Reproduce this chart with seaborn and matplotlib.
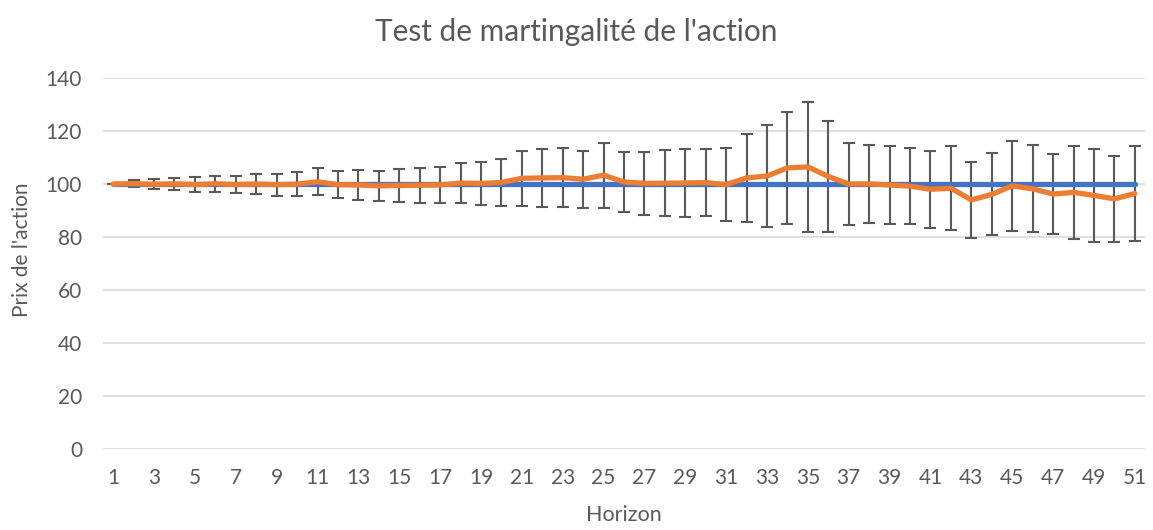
import numpy as np
import pandas as pd
import seaborn as sns
import matplotlib.pyplot as plt

# Horizon 1..51
horizon = list(range(1, 52))

# Prix théorique (martingale) : constant
prix_theorique = [100] * 51

# Prix moyen simulé
prix_moyen = [100.0, 100.15, 99.9, 100.05, 99.8, 100.1, 99.8, 100.0, 99.75, 99.95,
              100.85, 99.75, 99.65, 99.3, 99.45, 99.55, 99.65, 100.35, 100.2, 100.6,
              102.15, 102.3, 102.4, 101.8, 103.35, 100.75, 100.25, 100.3, 100.4, 100.55,
              99.8, 102.3, 103.0, 106.1, 106.45, 102.85, 100.0, 100.05, 99.65, 99.2,
              98.0, 98.4, 94.0, 96.1, 99.3, 98.2, 96.2, 96.85, 95.7, 94.4,
              96.4]

# Demi-largeur des barres d'erreur
ecart = [0.0, 1.35, 1.9, 2.35, 2.7, 3.0, 3.3, 3.8, 4.15, 4.55,
         5.05, 5.15, 5.65, 5.7, 6.25, 6.65, 6.75, 7.45, 8.2, 8.9,
         10.45, 10.9, 11.1, 10.7, 12.25, 11.25, 11.95, 12.4, 12.7, 12.65,
         13.8, 16.6, 19.3, 21.2, 24.65, 20.85, 15.6, 14.65, 14.75, 14.3,
         14.5, 15.8, 14.3, 15.5, 17.0, 16.4, 15.1, 17.65, 17.5, 16.3,
         17.8]

df = pd.DataFrame({'horizon': horizon, 'theorique': prix_theorique,
                   'moyen': prix_moyen, 'ecart': ecart})

sns.set_theme(style='white')
plt.rcParams['font.family'] = ['Lato', 'DejaVu Sans']
gris = '#595959'

fig = plt.figure(figsize=(11.53, 5.30), dpi=100)
ax = fig.add_axes([0.0893, 0.1528, 0.9038, 0.70])

# barres d'erreur (derrière les courbes)
ax.errorbar(df['horizon'], df['moyen'], yerr=df['ecart'], fmt='none',
            ecolor=gris, elinewidth=1.5, capsize=4.5, capthick=1.5, zorder=2)

sns.lineplot(data=df, x='horizon', y='theorique', color='#4472C4', linewidth=3.8,
             ax=ax, zorder=3, solid_capstyle='round')
sns.lineplot(data=df, x='horizon', y='moyen', color='#ED7D31', linewidth=3.8,
             ax=ax, zorder=4, solid_capstyle='round')

ax.set_xlim(0.5, 51.5)
ax.set_ylim(0, 140)
ax.set_xticks(horizon[::2])
ax.set_yticks(range(0, 141, 20))
ax.yaxis.grid(True, color='#D9D9D9', linewidth=1.2, zorder=0)
ax.set_axisbelow(True)
for s in ax.spines.values():
    s.set_visible(False)
ax.tick_params(axis='both', length=0, labelsize=15, colors=gris)
ax.tick_params(axis='x', pad=14)
ax.tick_params(axis='y', pad=15)

ax.set_xlabel('Horizon', fontsize=15.5, color=gris, labelpad=12)
ax.set_ylabel("Prix de l'action", fontsize=15, color=gris)
ax.yaxis.set_label_coords(-0.068, 0.536)
# titre centré sur la figure, comme dans Excel
ax.set_title("Test de martingalité de l'action", fontsize=21.5, color=gris,
             pad=27, x=0.454)

fig.savefig('out.png', dpi=100)
